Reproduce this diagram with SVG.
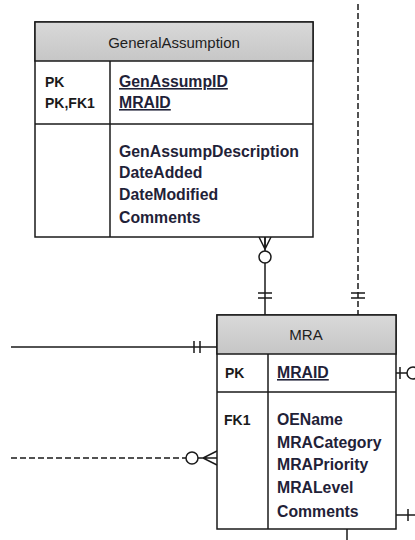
<svg xmlns="http://www.w3.org/2000/svg" width="415" height="540" viewBox="0 0 415 540">
  <defs>
    <linearGradient id="hdr" x1="0" y1="0" x2="0" y2="1">
      <stop offset="0" stop-color="#d9d9d9"/>
      <stop offset="1" stop-color="#c6c6c6"/>
    </linearGradient>
    <style>
      .box { fill: #ffffff; stroke: #1a1a1a; stroke-width: 1.5; }
      .head { fill: url(#hdr); stroke: #1a1a1a; stroke-width: 1.5; }
      .rule { stroke: #1a1a1a; stroke-width: 1.5; fill: none; }
      .title { font-family: "Liberation Sans", Arial, sans-serif; font-size: 15px; fill: #1e1e1e; text-anchor: middle; }
      .key { font-family: "Liberation Sans", Arial, sans-serif; font-size: 14px; font-weight: bold; fill: #1a1a1a; }
      .attr { font-family: "Liberation Sans", Arial, sans-serif; font-size: 15.8px; font-weight: bold; fill: #1f2238; }
      .pk { text-decoration: underline; }
      .line { stroke: #1a1a1a; stroke-width: 1.5; fill: none; }
      .dash { stroke: #1a1a1a; stroke-width: 1.5; fill: none; stroke-dasharray: 6 3; }
      .ring { stroke: #1a1a1a; stroke-width: 1.5; fill: #ffffff; }
    </style>
  </defs>

  <rect width="415" height="540" fill="#ffffff"/>

  <!-- Relationship lines -->
  <g id="connectors">
    <!-- GeneralAssumption (zero or many) to MRA (one) -->
    <line class="line" x1="265" y1="237" x2="265" y2="315"/>
    <path class="line" d="M259,237 L265,249 L271,237 M265,237 L265,249"/>
    <circle class="ring" cx="265" cy="257" r="6"/>
    <path class="line" d="M258,293 H272 M258,298 H272"/>

    <!-- dashed link entering MRA from above -->
    <line class="dash" x1="358" y1="4" x2="358" y2="315"/>
    <path class="line" d="M351,293 H365 M351,298 H365"/>

    <!-- solid link entering MRA header from the left -->
    <line class="line" x1="11" y1="347" x2="217" y2="347"/>
    <path class="line" d="M194,341 V353 M200,341 V353"/>

    <!-- dashed link with zero-or-many end on MRA -->
    <line class="dash" x1="11" y1="458" x2="186" y2="458"/>
    <circle class="ring" cx="192" cy="458" r="6"/>
    <path class="line" d="M217,451 L203,458 L217,465 M198,458 H217"/>

    <!-- links leaving MRA on the right and bottom -->
    <line class="line" x1="396" y1="373" x2="415" y2="373"/>
    <path class="line" d="M400,367 V379"/>
    <circle class="ring" cx="413" cy="373" r="6"/>
    <line class="line" x1="396" y1="515" x2="415" y2="515"/>
    <path class="line" d="M408,509 V521"/>
    <line class="line" x1="347" y1="529" x2="347" y2="540"/>
  </g>

  <!-- GeneralAssumption entity -->
  <g id="GeneralAssumption">
    <rect class="box" x="35" y="22" width="278" height="215"/>
    <rect class="head" x="35" y="22" width="278" height="39"/>
    <line class="rule" x1="35" y1="124" x2="313" y2="124"/>
    <line class="rule" x1="110" y1="61" x2="110" y2="237"/>
    <text class="title" x="174" y="48">GeneralAssumption</text>
    <text class="key" x="45" y="87">PK</text>
    <text class="key" x="45" y="108">PK,FK1</text>
    <text class="attr pk" x="119" y="87">GenAssumpID</text>
    <text class="attr pk" x="119" y="108">MRAID</text>
    <text class="attr" x="119" y="157">GenAssumpDescription</text>
    <text class="attr" x="119" y="178">DateAdded</text>
    <text class="attr" x="119" y="200">DateModified</text>
    <text class="attr" x="119" y="223">Comments</text>
  </g>

  <!-- MRA entity -->
  <g id="MRA">
    <rect class="box" x="217" y="315" width="179" height="214"/>
    <rect class="head" x="217" y="315" width="179" height="39"/>
    <line class="rule" x1="217" y1="392" x2="396" y2="392"/>
    <line class="rule" x1="268" y1="354" x2="268" y2="529"/>
    <text class="title" x="306" y="340">MRA</text>
    <text class="key" x="225" y="378">PK</text>
    <text class="attr pk" x="277" y="378">MRAID</text>
    <text class="key" x="224" y="425">FK1</text>
    <text class="attr" x="277" y="425">OEName</text>
    <text class="attr" x="277" y="448">MRACategory</text>
    <text class="attr" x="277" y="470">MRAPriority</text>
    <text class="attr" x="277" y="493">MRALevel</text>
    <text class="attr" x="277" y="517">Comments</text>
  </g>
</svg>
